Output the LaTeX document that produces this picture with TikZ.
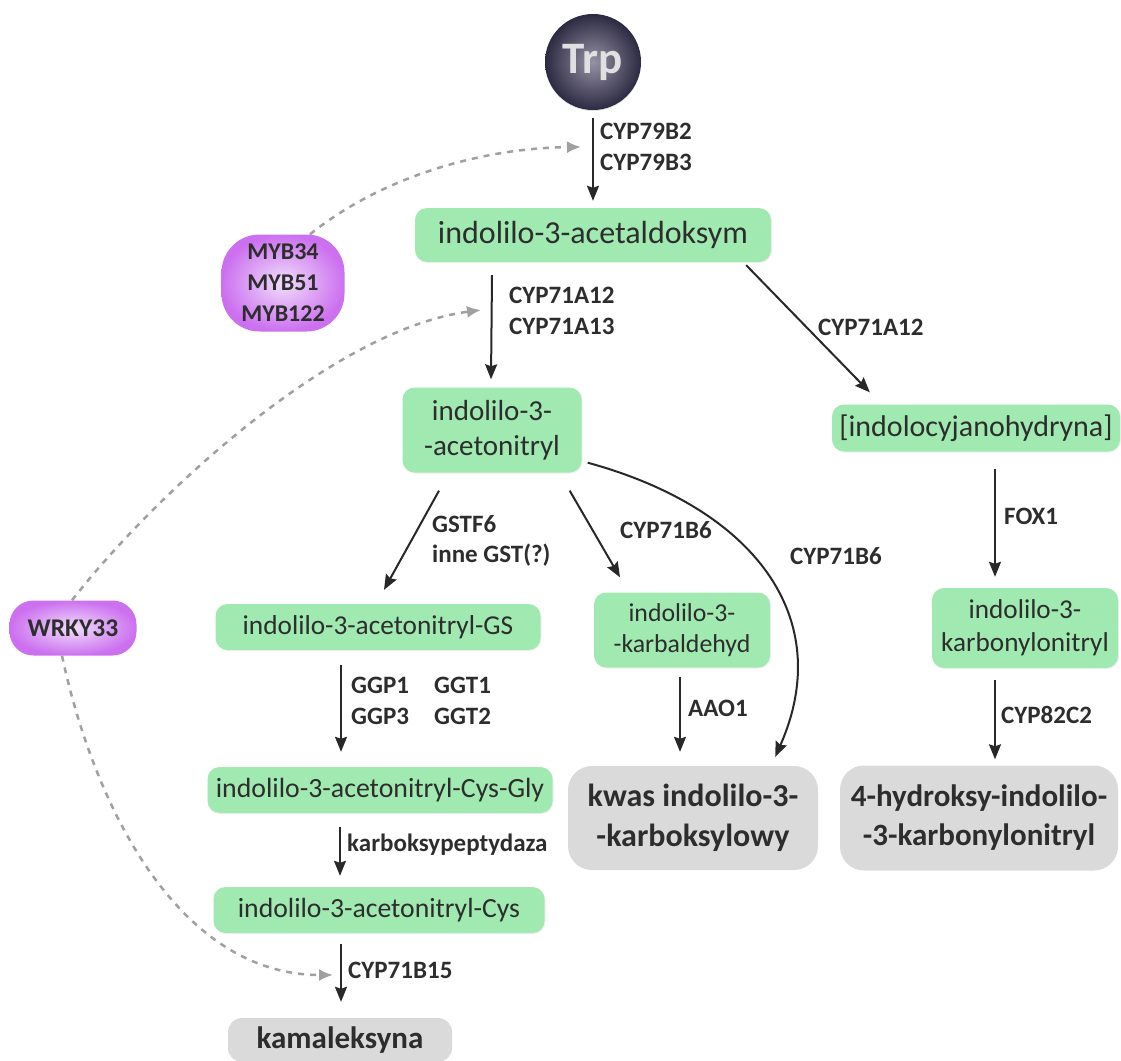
\documentclass[tikz,border=0pt]{standalone}
\usepackage{fontspec}
\setmainfont{Carlito}
\usetikzlibrary{arrows.meta,shadows}

\begin{document}
\begin{tikzpicture}[x=1pt,y=-1pt,
  box/.style={rounded corners=12pt, fill=boxgreen, text=txtcol, inner sep=0pt, align=center,
    font=\fontsize{28}{34}\selectfont, drop shadow={opacity=0.12, shadow xshift=1pt, shadow yshift=-1pt}},
  endbox/.style={rounded corners=24pt, fill=boxgray, text=txtcol, inner sep=0pt, align=center,
    font=\fontsize{31}{39}\selectfont\bfseries},
  regbox/.style={inner sep=0pt, align=center, text=txtcol, shading=radial,
    inner color=regin, outer color=regout, font=\fontsize{24}{31}\selectfont\bfseries},
  enz/.style={inner sep=0pt, anchor=west, align=left, text=txtcol, font=\fontsize{25}{30.5}\selectfont\bfseries},
  arr/.style={line width=2pt, draw=arrcol, -{Stealth[length=15pt,width=12pt,inset=2pt]}},
  reg/.style={line width=2.5pt, draw=dashcol, dash pattern=on 6pt off 6pt, -{Latex[length=14pt,width=12pt]}}]
\useasboundingbox (0,0) rectangle (1121,1060);
\definecolor{boxgreen}{RGB}{160, 233, 177}
\definecolor{boxgray}{RGB}{218, 218, 218}
\definecolor{txtcol}{RGB}{45, 45, 45}
\definecolor{arrcol}{RGB}{40, 40, 40}
\definecolor{dashcol}{RGB}{160, 160, 160}
\definecolor{regin}{RGB}{240, 222, 250}
\definecolor{regout}{RGB}{204, 112, 240}
\definecolor{trpin}{RGB}{150, 146, 165}
\definecolor{trpout}{RGB}{44, 42, 66}
% metabolites
\node[circle, minimum size=96pt, inner sep=0pt, shading=radial, inner color=trpin, outer color=trpout,
  text=white!88!black, font=\fontsize{45}{45}\selectfont\bfseries,
  drop shadow={opacity=0.25, shadow xshift=0pt, shadow yshift=-1pt}] (trp) at (593,62) {Trp};
\node[box, minimum width=356pt, minimum height=54pt, font=\fontsize{32}{34}\selectfont] (ald) at (593,235) {indolilo-3-acetaldoksym};
\node[box, minimum width=179pt, minimum height=85pt, font=\fontsize{29}{35}\selectfont] (acn) at (492,430) {indolilo-3-\\-acetonitryl};
\node[box, minimum width=288pt, minimum height=47pt, font=\fontsize{30}{32}\selectfont] (cyj) at (976,428) {[indolocyjanohydryna]};
\node[box, minimum width=325pt, minimum height=46pt, font=\fontsize{27.3}{30}\selectfont] (gs) at (378,627) {indolilo-3-acetonitryl-GS};
\node[box, minimum width=176pt, minimum height=75pt, font=\fontsize{25.8}{31}\selectfont] (kar) at (682,630) {indolilo-3-\\-karbaldehyd};
\node[box, minimum width=186pt, minimum height=80pt, font=\fontsize{27.2}{33}\selectfont] (kon) at (1025,628) {indolilo-3-\\karbonylonitryl};
\node[box, minimum width=345pt, minimum height=46pt, font=\fontsize{27.8}{30}\selectfont] (gly) at (380,790) {indolilo-3-acetonitryl-Cys-Gly};
\node[box, minimum width=331pt, minimum height=46pt, font=\fontsize{27.7}{30}\selectfont] (cys) at (379,910) {indolilo-3-acetonitryl-Cys};
\node[endbox, minimum width=250pt, minimum height=104pt, font=\fontsize{32}{40}\selectfont\bfseries] (kwas) at (693,818) {kwas indolilo-3-\\-karboksylowy};
\node[endbox, minimum width=278pt, minimum height=105pt, font=\fontsize{31}{39}\selectfont\bfseries] (hyd) at (979,818) {4-hydroksy-indolilo-\\-3-karbonylonitryl};
\node[endbox, minimum width=224pt, minimum height=44pt, rounded corners=14pt] (kam) at (340,1040) {kamaleksyna};
% regulators
\node[regbox, rounded corners=38pt, minimum width=123pt, minimum height=97pt] (myb) at (283,283) {MYB34\\MYB51\\MYB122};
\node[regbox, rounded corners=24pt, minimum width=127pt, minimum height=55pt, font=\fontsize{25.5}{31}\selectfont\bfseries] (wrky) at (73,628) {WRKY33};
% reactions
\draw[arr] ([yshift=-8pt]trp.south) -- ([yshift=7pt]ald.north);
\draw[arr] ([xshift=-101pt,yshift=-13pt]ald.south) -- ([xshift=-1pt,yshift=8pt]acn.north);
\draw[arr] ([xshift=-25pt,yshift=-3pt]ald.south east) -- ([xshift=38pt,yshift=12pt]cyj.north west);
\draw[arr] ([xshift=-53pt,yshift=-18pt]acn.south) -- ([xshift=6pt,yshift=14pt]gs.north);
\draw[arr] ([xshift=-12pt,yshift=-18pt]acn.south east) -- ([xshift=-62pt,yshift=15pt]kar.north);
\draw[arr] ([xshift=6pt,yshift=10pt]acn.south east) .. controls +(165,45) and +(62,-140) .. ([xshift=-43pt,yshift=9pt]kwas.north east);
\draw[arr] ([xshift=19pt,yshift=-17pt]cyj.south) -- ([xshift=-30pt,yshift=11pt]kon.north);
\draw[arr] ([xshift=-37pt,yshift=-15pt]gs.south) -- ([xshift=-39pt,yshift=15pt]gly.north);
\draw[arr] ([xshift=-2pt,yshift=-9pt]kar.south) -- ([xshift=-13pt,yshift=14pt]kwas.north);
\draw[arr] ([xshift=-30pt,yshift=-12pt]kon.south) -- ([xshift=16pt,yshift=6pt]hyd.north);
\draw[arr] ([xshift=-40pt,yshift=-14pt]gly.south) -- ([xshift=-39pt,yshift=11pt]cys.north);
\draw[arr] ([xshift=-38pt,yshift=-11pt]cys.south) -- ([xshift=1pt,yshift=16pt]kam.north);
% enzymes
\node[enz] (e79) at (600,147) {CYP79B2\\CYP79B3};
\node[enz] (e71a) at (509,311) {CYP71A12\\CYP71A13};
\node[enz] (e71c) at (818,327) {CYP71A12};
\node[enz] (egst) at (432,541) {GSTF6\\inne GST(?)};
\node[enz] (eb6a) at (620,530) {CYP71B6};
\node[enz] (eb6b) at (790,556) {CYP71B6};
\node[enz] (efox) at (1004,516) {FOX1};
\node[enz] (eggp) at (351,701) {GGP1\\GGP3};
\node[enz] (eggt) at (434,701) {GGT1\\GGT2};
\node[enz] (eaao) at (688,708) {AAO1};
\node[enz] (e82) at (1001,715) {CYP82C2};
\node[enz, font=\fontsize{25}{28}\selectfont\bfseries] (ecp) at (347,845) {karboksypeptydaza};
\node[enz] (eb15) at (348,970) {CYP71B15};
% regulation
\coordinate (r1) at (581,147);
\coordinate (r2) at (481,310);
\coordinate (r3) at (333,975);
\draw[reg] ([xshift=27pt]myb.north) .. controls (380,178) and (480,148) .. (r1);
\draw[reg] ([xshift=-1pt]wrky.north) .. controls (150,500) and (330,330) .. (r2);
\draw[reg] ([xshift=-11pt]wrky.south) .. controls (95,810) and (180,975) .. (r3);
\end{tikzpicture}
\end{document}
